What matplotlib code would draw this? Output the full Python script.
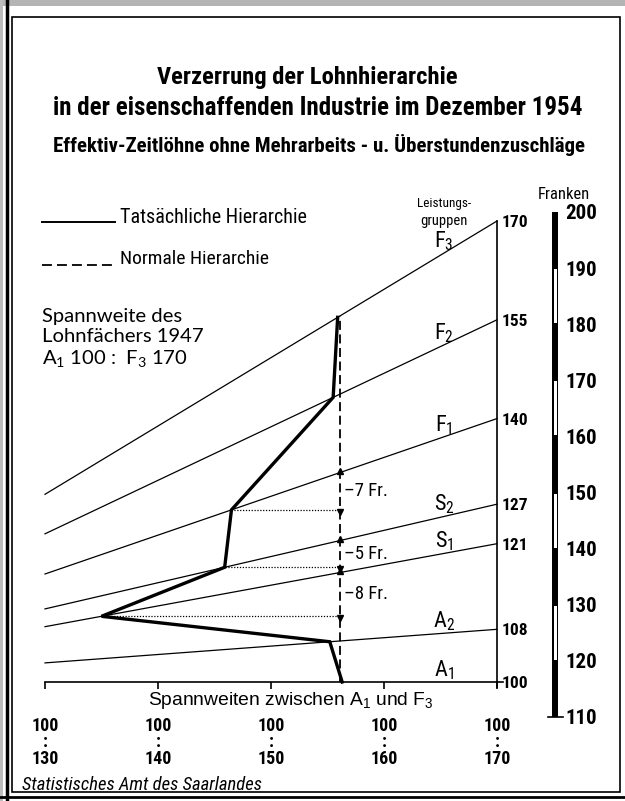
import os
import matplotlib
matplotlib.use('Agg')
import matplotlib.pyplot as plt
from matplotlib import font_manager
from matplotlib.font_manager import FontProperties
from matplotlib.lines import Line2D
from matplotlib.patches import Rectangle

# Leistungsgruppen und Index der normalen Hierarchie (A1 = 100)
groups = ['A1', 'A2', 'S1', 'S2', 'F1', 'F2', 'F3']
group_labels = [r'$\mathregular{A_1}$', r'$\mathregular{A_2}$', r'$\mathregular{S_1}$',
                r'$\mathregular{S_2}$', r'$\mathregular{F_1}$', r'$\mathregular{F_2}$',
                r'$\mathregular{F_3}$']
idx_170 = [100, 108, 121, 127, 140, 155, 170]            # bei Spannweite 100:170
idx_130 = [100, 102.9, 108.4, 111.1, 116.4, 122.5, 128.5]  # am linken Rand (100:130)
span_ticks = [130, 140, 150, 160, 170]

# tatsaechliche Hierarchie: Spannweite, bei der der Lohn die Gruppenlinie schneidet
actual_span = [156.3, 155.2, 135.0, 145.9, 146.5, 155.5, 155.9]
normal_span = 156.1
gap_groups = ['F1', 'S2', 'S1']
gap_labels = ['–7 Fr.', '–5 Fr.', '–8 Fr.']

franken = [110, 120, 130, 140, 150, 160, 170, 180, 190, 200]

W, H = 625, 801

# schmale Schrift suchen, sonst DejaVu
files = {os.path.basename(f.fname).lower(): f.fname for f in font_manager.fontManager.ttflist}


def pick(cands, fallback):
    for c in cands:
        if c in files:
            return FontProperties(fname=files[c])
    for name, path in files.items():
        if ('condensed' in name or 'narrow' in name) and cands[-1] in name:
            return FontProperties(fname=path)
    return fallback


NB = pick(['liberationsansnarrow-bold.ttf', 'robotocondensed-bold.ttf', 'dejavusanscondensed-bold.ttf',
           'notosans-condensedbold.ttf', 'opensans-condensedbold.ttf', 'opensans_condensed-bold.ttf', 'bold'],
          FontProperties(family='DejaVu Sans', weight='bold'))
NR = pick(['liberationsansnarrow-regular.ttf', 'robotocondensed-regular.ttf', 'dejavusanscondensed.ttf',
           'notosans-condensed.ttf', 'opensans-condensedregular.ttf', 'opensans_condensed-regular.ttf', 'regular'],
          FontProperties(family='DejaVu Sans'))
NI = pick(['liberationsansnarrow-italic.ttf', 'robotocondensed-italic.ttf',
           'dejavusanscondensed-oblique.ttf', 'notosans-condenseditalic.ttf', 'italic'],
          FontProperties(family='DejaVu Sans', style='italic'))
ROUND = FontProperties(family=['Lato', 'DejaVu Sans'])
SANS = FontProperties(family=['Liberation Sans', 'DejaVu Sans'])


def fx(px):
    return px / W


def fy(py):
    return 1 - py / H


def on_line(i, s):
    # Punkt auf der Geraden der Gruppe i bei Spannweite s
    return idx_130[i] + (idx_170[i] - idx_130[i]) * (s - 130) / 40


fig = plt.figure(figsize=(W / 100, H / 100), dpi=100)

# Hauptdiagramm
ax = fig.add_axes([fx(45), fy(682), (497 - 45) / W, (682 - 221) / H])
ax.set_xlim(130, 170)
ax.set_ylim(100, 170)
ax.patch.set_visible(False)
ax.spines[['left', 'top']].set_visible(False)
ax.spines[['bottom', 'right']].set_linewidth(1.2)

for i in range(1, len(groups)):
    ax.plot([130, 170], [idx_130[i], idx_170[i]], color='k', lw=0.9, clip_on=False)
for i, lab in enumerate(group_labels):
    ax.annotate(lab, (165.3, on_line(i, 165.3)), xytext=(0, 8.5), textcoords='offset points',
                ha='center', va='center', fontproperties=NR, fontsize=16)

ax.yaxis.tick_right()
ax.set_yticks(idx_170, [str(v) for v in idx_170])
ax.tick_params(axis='y', length=0, pad=3.5)
ax.set_xticks(span_ticks, [f'100\n:\n{s}' for s in span_ticks])
ax.tick_params(axis='x', length=5, width=1.2, pad=20)
for t in ax.get_yticklabels():
    t.set_fontproperties(NB)
    t.set_fontsize(12.5)
for t in ax.get_xticklabels():
    t.set_fontproperties(NB)
    t.set_fontsize(13)
    t.set_linespacing(0.9)
ax.plot([170, 170], [100, 99.3], color='k', lw=1.2, clip_on=False)
ax.plot([170, 170.5], [100, 100], color='k', lw=1.2, clip_on=False)

# tatsaechliche Hierarchie
act_y = [on_line(i, s) for i, s in enumerate(actual_span)]
ax.plot(actual_span, act_y, color='k', lw=2.4, solid_joinstyle='miter', clip_on=False, zorder=4)

# normale Hierarchie
ax.plot([normal_span, normal_span], [100, on_line(6, normal_span)], color='k', lw=1.3,
        ls=(0, (5, 2.5)), clip_on=False, zorder=3)

for g, lab in zip(gap_groups, gap_labels):
    i = groups.index(g)
    y_norm = on_line(i, normal_span)
    y_act = act_y[i]
    ax.plot([actual_span[i], normal_span], [y_act, y_act], color='k', lw=0.9, ls=(0, (1, 1.3)))
    ax.plot(normal_span, y_norm + 0.3, marker='^', ms=4, color='k')
    ax.plot(normal_span, y_act - 0.3, marker='v', ms=4, color='k')
    ax.annotate(lab, (normal_span, (y_norm + y_act) / 2), xytext=(3, 0), textcoords='offset points',
                ha='left', va='center', fontproperties=NR, fontsize=13.5)

# Frankenskala
axf = fig.add_axes([fx(552), fy(717), 6 / W, (717 - 212) / H])
axf.set_xlim(0, 1)
axf.set_ylim(110, 200)
axf.patch.set_visible(False)
axf.bar(0.5, franken[-1] - franken[0], bottom=franken[0], width=1, color='k')
for lo in franken[1:-1:2]:
    axf.bar(0.5, 9.6, bottom=lo + 0.2, width=0.5, color='white')
axf.plot([-0.7, 1.9], [110, 110], color='k', lw=1.2, clip_on=False)
axf.spines[:].set_visible(False)
axf.set_xticks([])
axf.yaxis.tick_right()
axf.set_yticks(franken, [str(v) for v in franken])
axf.tick_params(axis='y', length=0, pad=5)
for t in axf.get_yticklabels():
    t.set_fontproperties(NB)
    t.set_fontsize(15)


def txt(x, y, s, **kw):
    kw.setdefault('va', 'baseline')
    return fig.text(fx(x), fy(y), s, **kw)


fitted = [
    (txt(157, 84, 'Verzerrung der Lohnhierarchie', fontproperties=NB, fontsize=18), 300),
    (txt(53, 115, 'in der eisenschaffenden Industrie im Dezember 1954', fontproperties=NB, fontsize=18), 529),
    (txt(53, 152, 'Effektiv-Zeitlöhne ohne Mehrarbeits - u. Überstundenzuschläge',
         fontproperties=NB, fontsize=16), 532),
    (txt(120, 223, 'Tatsächliche Hierarchie', fontproperties=NR, fontsize=13), 185),
    (txt(120, 264, 'Normale Hierarchie', fontproperties=NR, fontsize=13), 148),
    (txt(291, 705, r'Spannweiten zwischen $\mathregular{A_1}$ und $\mathregular{F_3}$', ha='center',
         fontproperties=SANS, fontsize=12), 286),
    (txt(22, 790, 'Statistisches Amt des Saarlandes', fontproperties=NI, fontsize=11), 240),
    (txt(444, 207, 'Leistungs-', ha='center', fontproperties=NR, fontsize=10), 54),
    (txt(444, 225, 'gruppen', ha='center', fontproperties=NR, fontsize=10), 47),
    (txt(564, 199, 'Franken', ha='center', fontproperties=NR, fontsize=12), 52),
]
span_block = [txt(42, 322, 'Spannweite des', fontproperties=ROUND, fontsize=13),
              txt(42, 342, 'Lohnfächers 1947', fontproperties=ROUND, fontsize=13),
              txt(42, 364, r'$\mathregular{A_1}$ 100 :  $\mathregular{F_3}$ 170', fontproperties=ROUND,
                  fontsize=13)]

# Legende
fig.add_artist(Line2D([fx(42), fx(115)], [fy(222), fy(222)], color='k', lw=1.4))
fig.add_artist(Line2D([fx(42), fx(115)], [fy(265), fy(265)], color='k', lw=1.3, ls=(0, (5.5, 2.8))))

# Rahmen
fig.add_artist(Rectangle((fx(12), fy(792)), (620 - 12) / W, (792 - 17) / H,
                         transform=fig.transFigure, fill=False, lw=1.2, color='k'))
fig.add_artist(Line2D([fx(7), fx(7)], [0, 1], color='k', lw=2.5))
fig.add_artist(Line2D([0, 1], [fy(797), fy(797)], color='k', lw=2.0))
fig.add_artist(Rectangle((0, fy(6)), 1, 6 / H, transform=fig.transFigure, color='#b4b4b4', lw=0))
fig.add_artist(Rectangle((0, 0), 3 / W, 1, transform=fig.transFigure, color='#bcbcbc', lw=0))

fig.canvas.draw()
r = fig.canvas.get_renderer()
for t, width in fitted:
    t.set_fontsize(t.get_fontsize() * width / t.get_window_extent(r).width)
size = span_block[0].get_fontsize() * 140 / span_block[0].get_window_extent(r).width
for t in span_block:
    t.set_fontsize(size)

fig.savefig('out.png', dpi=100)
